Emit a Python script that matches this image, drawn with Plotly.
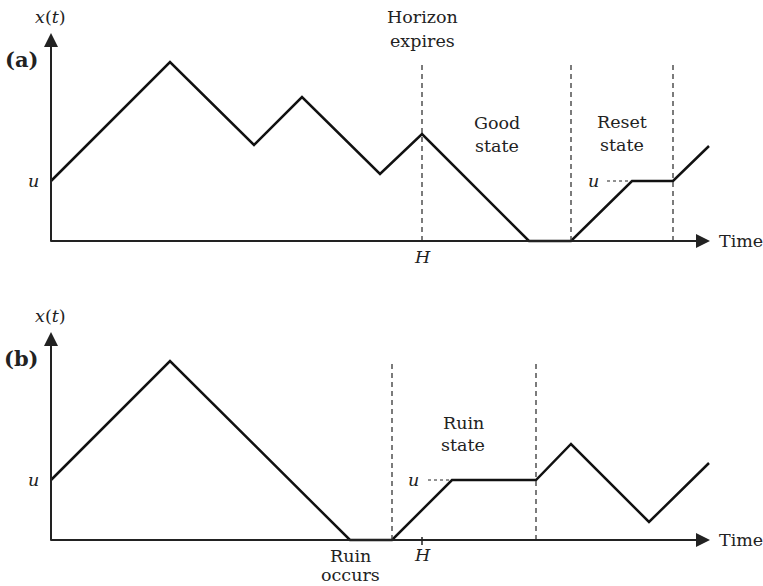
import plotly.graph_objects as go

# ---- data (schematic units) ----
# Panel (a)
t_a = [0, 11.9, 20.3, 25.1, 32.9, 37.1, 47.8, 52.0, 58.1, 62.2, 65.8]
x_a = [6.0, 17.9, 9.6, 14.4, 6.7, 10.7, 0, 0, 6.0, 6.0, 9.5]
dash_a = [37.1, 52.0, 62.2]
# Panel (b)
t_b = [0, 11.9, 29.9, 34.1, 40.1, 48.5, 52.0, 59.8, 65.8]
x_b = [6.0, 17.9, 0, 0, 6.0, 6.0, 9.6, 1.8, 7.7]
dash_b = [34.1, 48.5]
u_level = 6.0
H = 37.1
dash_top = 17.9
t_end = 65.9
y_tip = 20.8

FONT = "DejaVu Serif"
TXT = "#222222"
LINE = "#111111"
fs = 17.5

fig = go.Figure()
fig.add_trace(go.Scatter(x=t_a, y=x_a, mode="lines", xaxis="x", yaxis="y",
                         line=dict(color=LINE, width=2.5), hoverinfo="skip", showlegend=False))
fig.add_trace(go.Scatter(x=t_b, y=x_b, mode="lines", xaxis="x2", yaxis="y2",
                         line=dict(color=LINE, width=2.5), hoverinfo="skip", showlegend=False))

shapes = []
ann = []

def panel(xr, yr, dashes, label, dotted, ulab_t):
    for d in dashes:
        shapes.append(dict(type="line", xref=xr, yref=yr, x0=d, x1=d, y0=0, y1=dash_top,
                           line=dict(color="#444444", width=1.4, dash="5px,4px")))
    ann.append(dict(xref=xr, yref=yr, axref=xr, ayref=yr, x=0, y=y_tip, ax=0, ay=-0.2,
                    text="", showarrow=True, arrowhead=2, arrowsize=1.4, arrowwidth=2,
                    arrowcolor=TXT, standoff=0, startstandoff=0))
    ann.append(dict(xref=xr, yref=yr, axref=xr, ayref=yr, x=t_end, y=0, ax=-0.2, ay=0,
                    text="", showarrow=True, arrowhead=2, arrowsize=1.4, arrowwidth=2,
                    arrowcolor=TXT, standoff=0, startstandoff=0))
    shapes.append(dict(type="line", xref=xr, yref=yr, x0=dotted[0], x1=dotted[1],
                       y0=u_level, y1=u_level, line=dict(color=TXT, width=1, dash="dot")))
    def txt(t, y, s, size=fs, xa="center"):
        ann.append(dict(xref=xr, yref=yr, x=t, y=y, text=s, showarrow=False, xanchor=xa,
                        yanchor="middle", font=dict(family=FONT, size=size, color=TXT)))
    txt(-0.1, 22.4, "<i>x</i>(<i>t</i>)")
    txt(-3.0, 18.2, "<b>" + label + "</b>", size=21)
    txt(-1.8, u_level, "<i>u</i>")
    txt(ulab_t, u_level, "<i>u</i>")
    txt(66.6, 0, "Time", xa="left")
    return txt

txt_a = panel("x", "y", dash_a, "(a)", (55.6, 58.1), 54.2)
txt_a(37.1, 22.4, "Horizon")
txt_a(37.1, 20.0, "expires")
txt_a(44.6, 11.8, "Good")
txt_a(44.6, 9.5, "state")
txt_a(57.1, 11.9, "Reset")
txt_a(57.1, 9.6, "state")
txt_a(37.1, -1.6, "<i>H</i>")

txt_b = panel("x2", "y2", dash_b, "(b)", (37.7, 40.1), 36.2)
txt_b(41.2, 11.7, "Ruin")
txt_b(41.2, 9.5, "state")
txt_b(29.9, -1.6, "Ruin")
txt_b(29.9, -3.5, "occurs")
txt_b(H, -1.5, "<i>H</i>")
shapes.append(dict(type="line", xref="x2", yref="y2", x0=H, x1=H, y0=-0.5, y1=0.3,
                   line=dict(color=TXT, width=1.5)))

ax_common = dict(visible=False, showgrid=False, zeroline=False, fixedrange=True)
fig.update_layout(
    width=763, height=586,
    margin=dict(l=0, r=0, t=0, b=0, pad=0),
    paper_bgcolor="white", plot_bgcolor="white",
    xaxis=dict(range=[-5.1, 71.2], domain=[0, 1], anchor="y", **ax_common),
    yaxis=dict(range=[-5.2, 24.1], domain=[0.5, 1], anchor="x", **ax_common),
    xaxis2=dict(range=[-5.1, 71.2], domain=[0, 1], anchor="y2", **ax_common),
    yaxis2=dict(range=[-4.6, 24.7], domain=[0, 0.5], anchor="x2", **ax_common),
    shapes=shapes, annotations=ann, showlegend=False,
)
fig.write_html(
    "out.html",
    config={"displayModeBar": False},
    post_script=("document.body.style.margin='0';"
                 "document.body.style.overflow='hidden';"
                 "document.documentElement.style.overflow='hidden';"),
)
